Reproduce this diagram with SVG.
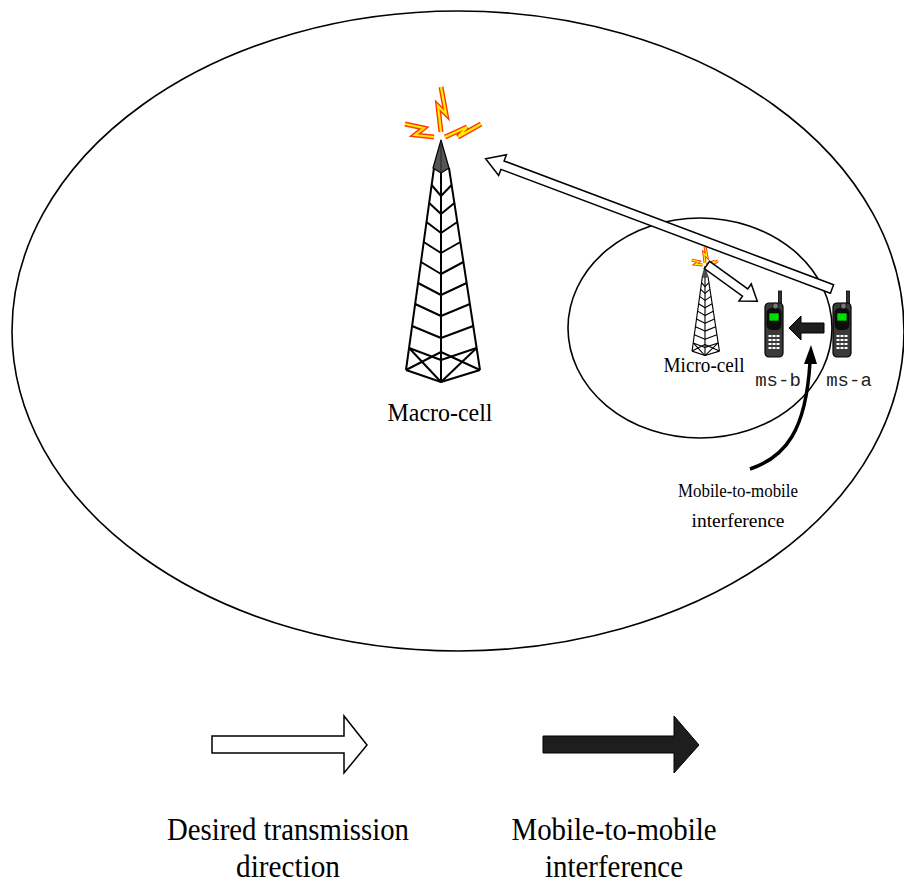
<svg xmlns="http://www.w3.org/2000/svg" xmlns:xlink="http://www.w3.org/1999/xlink" width="904" height="887" viewBox="0 0 904 887">
  <style>
    .cell { fill: none; stroke: #000; stroke-width: 1.6; }
    .lbl { font-family: "Liberation Serif", "Times New Roman", serif; fill: #000; text-anchor: middle; }
    .mono { font-family: "Liberation Mono", "Courier New", monospace; fill: #222; text-anchor: middle; }
    .hollow { fill: #fff; stroke: #000; stroke-width: 1.5; stroke-linejoin: miter; }
    .solid { fill: #1e1e1e; stroke: #000; stroke-width: 1; }
    .bolt-o { fill: none; stroke: #ff3a00; stroke-linejoin: miter; stroke-linecap: butt; }
    .bolt-i { fill: none; stroke: #ffee00; stroke-linejoin: miter; stroke-linecap: butt; }
    .tw { fill: none; stroke: #000; stroke-linejoin: round; }
  </style>
  <defs>
    <!-- lattice tower, apex at origin -->
    <g id="tower">
      <polyline class="tw" points="-7,28 -35,230"/>
      <polyline class="tw" points="8,28 39,230"/>
      <polyline class="tw" points="0,33 0,242"/>
      <polyline class="tw" points="-9.4,45 0,56 10.6,45"/>
      <polyline class="tw" points="-11.8,63 0,74 13.4,63"/>
      <polyline class="tw" points="-14.5,82 0,93 16.3,82"/>
      <polyline class="tw" points="-17.3,102 0,113 19.4,102"/>
      <polyline class="tw" points="-20,122 0,134 22.4,122"/>
      <polyline class="tw" points="-22.9,143 0,155 25.6,143"/>
      <polyline class="tw" points="-25.8,164 0,176 28.9,164"/>
      <polyline class="tw" points="-28.9,186 0,198 32.2,186"/>
      <polyline class="tw" points="-31.9,208 0,220 35.6,208"/>
      <polyline class="tw" points="-35,230 0,242 39,230"/>
      <polyline class="tw" points="-31.9,208 0,242"/>
      <polyline class="tw" points="-35,230 0,212 39,230"/>
      <polyline class="tw" points="35.6,208 0,242"/>
      <polygon points="0,0 -8,28 0,33 8,28" fill="#555" stroke="#000" stroke-width="1.2" stroke-linejoin="round"/>
      <line x1="0" y1="0" x2="0" y2="33" stroke="#222" stroke-width="1"/>
    </g>
    <!-- handset: body top-left at origin -->
    <g id="phone">
      <rect x="13.5" y="-12" width="3" height="14" fill="#333" stroke="#000" stroke-width="0.8"/>
      <rect x="0" y="0" width="18" height="54" rx="4" fill="#3a3a3a" stroke="#000" stroke-width="1.2"/>
      <rect x="1.5" y="5" width="15" height="22" rx="5" fill="#0d0d0d"/>
      <circle cx="10.5" cy="3" r="3" fill="#777" stroke="#000" stroke-width="0.8"/>
      <rect x="4" y="10" width="10" height="8" fill="#00e000" stroke="#000" stroke-width="0.6"/>
      <g fill="#fff">
        <rect x="3.5" y="32" width="3" height="2"/><rect x="7.5" y="32" width="3" height="2"/><rect x="11.5" y="32" width="3" height="2"/>
        <rect x="3.5" y="36" width="3" height="2"/><rect x="7.5" y="36" width="3" height="2"/><rect x="11.5" y="36" width="3" height="2"/>
        <rect x="3.5" y="40" width="3" height="2"/><rect x="7.5" y="40" width="3" height="2"/><rect x="11.5" y="40" width="3" height="2"/>
        <rect x="3.5" y="44" width="3" height="2"/><rect x="7.5" y="44" width="3" height="2"/><rect x="11.5" y="44" width="3" height="2"/>
      </g>
    </g>
  </defs>

  <rect width="904" height="887" fill="#fff"/>

  <!-- coverage areas -->
  <g id="macro-area"><ellipse class="cell" cx="458" cy="331" rx="446" ry="320"/></g>
  <g id="micro-area"><ellipse class="cell" cx="700" cy="328" rx="132" ry="110"/></g>

  <!-- macro base station -->
  <g id="macro-cell">
    <use xlink:href="#tower" transform="translate(441,140)" stroke-width="2"/>
    <g>
      <polyline class="bolt-o" stroke-width="5" points="441,87 446,114 438,106 441,132"/>
      <polyline class="bolt-o" stroke-width="5" points="405,124 424,128 415,135 434,137"/>
      <polyline class="bolt-o" stroke-width="5" points="445,137 467,127 458,137 481,124"/>
      <polyline class="bolt-i" stroke-width="2.2" points="441,87 446,114 438,106 441,132"/>
      <polyline class="bolt-i" stroke-width="2.2" points="405,124 424,128 415,135 434,137"/>
      <polyline class="bolt-i" stroke-width="2.2" points="445,137 467,127 458,137 481,124"/>
    </g>
    <text class="lbl" x="440" y="421" font-size="26" textLength="105" lengthAdjust="spacingAndGlyphs">Macro-cell</text>
  </g>

  <!-- micro base station -->
  <g id="micro-cell">
    <use xlink:href="#tower" transform="translate(705,266) scale(0.37)" stroke-width="3"/>
    <g>
      <polyline class="bolt-o" stroke-width="3" points="705,246.4 706.9,256.4 703.9,253.4 705,263"/>
      <polyline class="bolt-o" stroke-width="3" points="691.7,260.1 698.7,261.6 695.4,264.2 702.4,264.9"/>
      <polyline class="bolt-o" stroke-width="3" points="706.5,264.9 714.6,261.2 711.3,264.9 718,260.8"/>
      <polyline class="bolt-i" stroke-width="1.2" points="705,246.4 706.9,256.4 703.9,253.4 705,263"/>
      <polyline class="bolt-i" stroke-width="1.2" points="691.7,260.1 698.7,261.6 695.4,264.2 702.4,264.9"/>
      <polyline class="bolt-i" stroke-width="1.2" points="706.5,264.9 714.6,261.2 711.3,264.9 718,260.8"/>
    </g>
    <text class="lbl" x="704" y="372" font-size="21" textLength="81" lengthAdjust="spacingAndGlyphs">Micro-cell</text>
  </g>

  <!-- mobile stations -->
  <g id="ms-b">
    <use xlink:href="#phone" transform="translate(765,303)"/>
    <text class="mono" x="778" y="386" font-size="19">ms-b</text>
  </g>
  <g id="ms-a">
    <use xlink:href="#phone" transform="translate(833,303)"/>
    <text class="mono" x="849" y="386" font-size="19">ms-a</text>
  </g>

  <!-- connectors -->
  <g id="connectors">
    <!-- ms-a uplink towards the macro-cell -->
    <polygon class="hollow" transform="translate(832,289) rotate(200.6)" points="0,-4.5 352,-4.5 352,-11 370,0 352,11 352,4.5 0,4.5"/>
    <!-- micro-cell downlink to ms-b -->
    <polygon class="hollow" transform="translate(707,265) rotate(35.8)" points="0,-4.5 47,-4.5 47,-10.5 62,0 47,10.5 47,4.5 0,4.5"/>
    <!-- ms-a to ms-b interference -->
    <polygon class="solid" points="824,323 801,323 801,316 789,328 801,340 801,333 824,333"/>
    <!-- annotation pointer -->
    <path d="M750,469 C786,457 806,430 810,362" fill="none" stroke="#000" stroke-width="3.5"/>
    <polygon points="811,345 804,364 817,364" fill="#000"/>
  </g>

  <g id="annotation">
    <text class="lbl" x="738" y="497" font-size="19.5" textLength="120" lengthAdjust="spacingAndGlyphs">Mobile-to-mobile</text>
    <text class="lbl" x="738" y="527" font-size="19.5" textLength="93" lengthAdjust="spacingAndGlyphs">interference</text>
  </g>

  <!-- legend -->
  <g id="legend-desired">
    <polygon class="hollow" points="212,736 344,736 344,716 367,745 344,773 344,753 212,753"/>
    <text class="lbl" x="288" y="840" font-size="32" textLength="242" lengthAdjust="spacingAndGlyphs">Desired transmission</text>
    <text class="lbl" x="288" y="877" font-size="32" textLength="104" lengthAdjust="spacingAndGlyphs">direction</text>
  </g>
  <g id="legend-interference">
    <polygon class="solid" points="543,736 674,736 674,716 699,745 674,773 674,753 543,753"/>
    <text class="lbl" x="614" y="840" font-size="32" textLength="205" lengthAdjust="spacingAndGlyphs">Mobile-to-mobile</text>
    <text class="lbl" x="614" y="877" font-size="32" textLength="138" lengthAdjust="spacingAndGlyphs">interference</text>
  </g>
</svg>
